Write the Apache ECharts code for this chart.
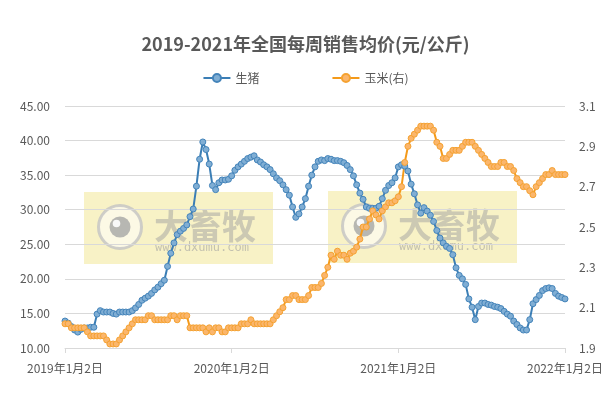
<!DOCTYPE html>
<html><head><meta charset="utf-8">
<script src="https://cdn.jsdelivr.net/npm/echarts@6/dist/echarts.min.js"></script>
<style>html,body{margin:0;padding:0;background:#fff}#c{width:611px;height:394px}</style>
</head><body><div id="c"></div>
<script>
const chartTitle = '2019-2021年全国每周销售均价(元/公斤)';
const seriesNames = ['生猪', '玉米(右)'];
const tickLabels = ['2019年1月2日', '2020年1月2日', '2021年1月2日', '2022年1月2日'];
const firstWeek = [2019, 0, 2];

// 生猪 weekly price (left axis)
const pig = [
  13.9,13.6,13.1,12.6,12.3,12.7,12.9,12.9,13.0,13.0,
  14.9,15.4,15.2,15.2,15.2,15.0,14.9,15.2,15.2,15.2,
  15.2,15.4,15.8,16.3,16.9,17.2,17.5,17.9,18.4,18.8,
  19.3,19.8,21.8,23.7,25.2,26.4,26.9,27.3,27.8,29.0,
  30.1,33.4,37.3,39.8,38.7,36.6,33.5,32.9,33.9,34.3,
  34.3,34.4,34.9,35.7,36.2,36.6,37.0,37.4,37.6,37.8,
  37.2,36.9,36.5,36.2,35.8,35.2,34.6,34.2,33.6,32.9,
  32.1,30.4,28.9,29.4,30.4,31.6,33.4,35.0,36.2,37.0,
  37.2,37.1,37.4,37.3,37.1,37.1,37.0,36.8,36.4,35.8,
  34.9,33.6,32.4,31.5,30.4,30.2,30.2,30.2,30.5,31.6,
  32.8,33.5,33.9,34.6,36.2,36.5,36.3,35.6,33.7,32.3,
  30.7,29.5,30.3,29.8,29.2,28.3,27.0,25.9,25.2,24.7,
  24.4,23.5,21.6,20.5,20.0,19.2,17.1,15.9,14.1,16.0,
  16.5,16.5,16.3,16.2,16.0,15.9,15.7,15.3,14.9,14.6,
  13.9,13.4,12.9,12.6,12.6,14.1,16.4,17.0,17.6,18.3,
  18.6,18.7,18.6,17.9,17.5,17.3,17.1
];

// 玉米 weekly price (right axis)
const corn = [
  2.02,2.02,2.00,2.00,2.00,2.00,2.00,1.98,1.96,1.96,
  1.96,1.96,1.96,1.94,1.92,1.92,1.92,1.94,1.96,1.98,
  2.00,2.02,2.04,2.04,2.04,2.04,2.06,2.06,2.04,2.04,
  2.04,2.04,2.04,2.06,2.06,2.04,2.06,2.06,2.06,2.00,
  2.00,2.00,2.00,2.00,1.98,2.00,1.98,2.00,2.00,1.98,
  1.98,2.00,2.00,2.00,2.00,2.02,2.02,2.02,2.04,2.02,
  2.02,2.02,2.02,2.02,2.02,2.04,2.06,2.08,2.10,2.14,
  2.14,2.16,2.16,2.14,2.14,2.14,2.16,2.20,2.20,2.20,
  2.22,2.26,2.30,2.36,2.34,2.38,2.36,2.36,2.34,2.37,
  2.38,2.40,2.44,2.50,2.50,2.54,2.58,2.56,2.54,2.58,
  2.60,2.62,2.62,2.63,2.65,2.70,2.82,2.90,2.94,2.96,
  2.98,3.00,3.00,3.00,3.00,2.98,2.92,2.90,2.84,2.84,
  2.86,2.88,2.88,2.88,2.90,2.92,2.92,2.92,2.90,2.88,
  2.86,2.84,2.82,2.80,2.80,2.80,2.82,2.82,2.80,2.80,
  2.78,2.74,2.72,2.70,2.70,2.68,2.66,2.70,2.72,2.74,
  2.76,2.76,2.78,2.76,2.76,2.76,2.76
];

// weekly dates as categories
const categories = pig.map(function (_, i) {
  const d = new Date(Date.UTC(firstWeek[0], firstWeek[1], firstWeek[2] + 7 * i));
  return d.toISOString().slice(0, 10);
});
const weeksPerYear = 52;

const FONT = '"Noto Sans CJK SC", "Noto Sans", sans-serif';
const GREY = '#595959';
const GRID = '#D9D9D9';

function watermark(x, y) {
  return {
    type: 'group', x: x, y: y, z: 100, silent: true,
    children: [
      { type: 'rect', shape: { x: 0, y: 0, width: 189, height: 72 },
        style: { fill: 'rgba(238,224,120,0.42)' } },
      { type: 'circle', shape: { cx: 36, cy: 35, r: 21.5 },
        style: { fill: 'rgba(255,255,255,0.55)', stroke: 'rgba(195,195,195,0.8)', lineWidth: 3 } },
      { type: 'circle', shape: { cx: 36, cy: 35, r: 10.5 },
        style: { fill: 'rgba(160,160,160,0.75)' } },
      { type: 'circle', shape: { cx: 32.5, cy: 31.5, r: 3.8 },
        style: { fill: 'rgba(255,255,255,0.9)' } },
      { type: 'text', x: 70, y: 17,
        style: { text: '大畜牧', font: 'bold 34px ' + FONT, fill: 'rgba(160,160,160,0.5)', verticalAlign: 'top' } },
      { type: 'text', x: 71, y: 50,
        style: { text: 'www.dxumu.com', font: '12px "DejaVu Sans Mono", monospace', fill: 'rgba(160,160,160,0.6)', verticalAlign: 'top' } }
    ]
  };
}

const chart = echarts.init(document.getElementById('c'), null, { renderer: 'canvas' });
chart.setOption({
  animation: false,
  backgroundColor: '#fff',
  title: {
    text: chartTitle, left: 'center', top: 30,
    textStyle: { color: GREY, fontSize: 18, fontWeight: 'bold', fontFamily: FONT }
  },
  legend: {
    data: seriesNames, top: 67, left: 'center', itemGap: 72, itemWidth: 27, itemHeight: 10,
    textStyle: { color: GREY, fontSize: 12, fontFamily: FONT }
  },
  grid: { left: 65, right: 46, top: 106, bottom: 46 },
  xAxis: {
    type: 'category', data: categories, boundaryGap: false,
    axisLine: { lineStyle: { color: GRID, width: 1 } },
    axisTick: { show: true, length: 5, interval: function (i) { return i % weeksPerYear === 0; }, lineStyle: { color: GRID } },
    axisLabel: {
      interval: function (i) { return i % weeksPerYear === 0; },
      formatter: function (v, i) { return tickLabels[Math.round(i / weeksPerYear)]; },
      color: GREY, fontSize: 12, fontFamily: FONT, margin: 14
    },
    splitLine: { show: false }
  },
  yAxis: [
    {
      type: 'value', min: 10, max: 45, interval: 5, position: 'left',
      axisLine: { show: false }, axisTick: { show: false },
      axisLabel: { formatter: function (v) { return v.toFixed(2); }, color: GREY, fontSize: 12, fontFamily: FONT, margin: 15 },
      splitLine: { lineStyle: { color: GRID, width: 1 } }
    },
    {
      type: 'value', min: 1.9, max: 3.1, interval: 0.1, position: 'right',
      axisLine: { show: false }, axisTick: { show: false },
      axisLabel: {
        formatter: function (v) { return Math.round(v * 10) % 2 === 1 ? v.toFixed(1) : ''; },
        color: GREY, fontSize: 12, fontFamily: FONT, margin: 14
      },
      splitLine: { show: false }
    }
  ],
  series: [
    {
      name: seriesNames[0], type: 'line', yAxisIndex: 0, data: pig,
      symbol: 'circle', symbolSize: 6, showAllSymbol: true,
      lineStyle: { color: '#3B7EB5', width: 2 },
      itemStyle: { color: '#80AED4', borderColor: '#4484BA', borderWidth: 1 }
    },
    {
      name: seriesNames[1], type: 'line', yAxisIndex: 1, data: corn,
      symbol: 'circle', symbolSize: 6, showAllSymbol: true,
      lineStyle: { color: '#F49A1A', width: 2 },
      itemStyle: { color: '#FBB66C', borderColor: '#F5A231', borderWidth: 1 }
    }
  ],
  graphic: [watermark(84, 192), watermark(328, 191)]
});
</script>
</body></html>
